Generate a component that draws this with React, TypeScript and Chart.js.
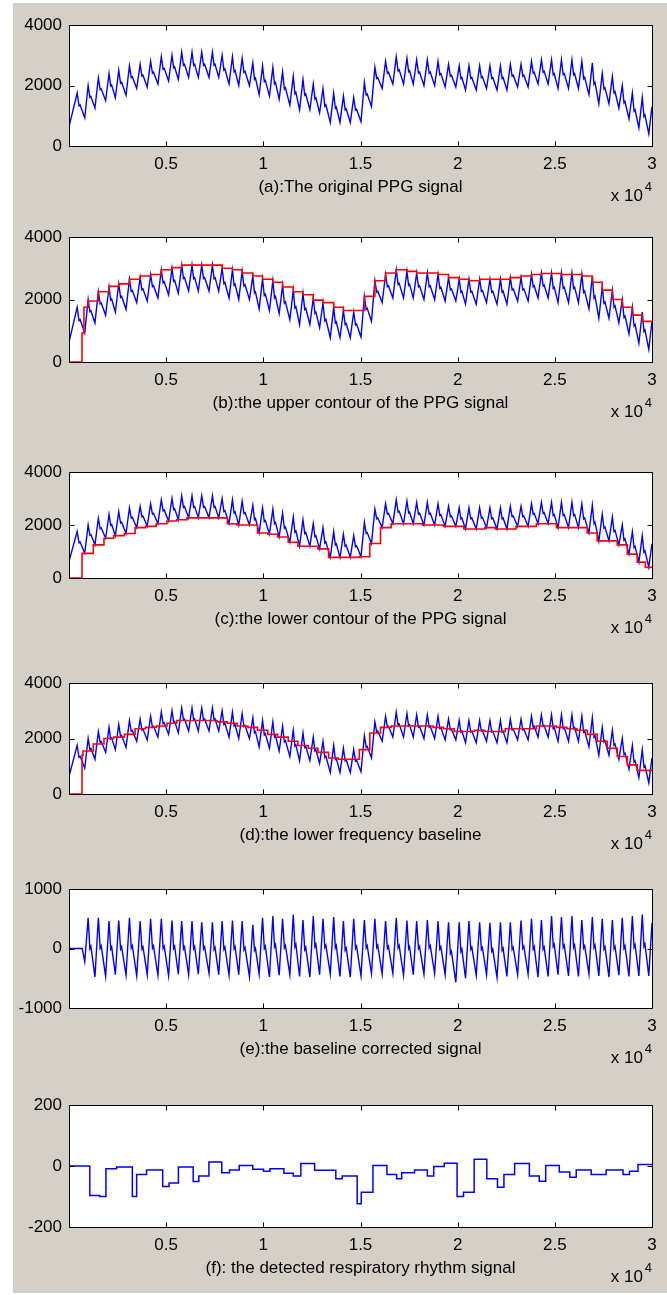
import React, { useEffect, useRef } from "react";
import { Chart, registerables } from "chart.js";

Chart.register(...registerables);

// ------------------------------------------------------------------ data
const xMin = 0;
const xMax = 30000;
const xTickValues = [5000, 10000, 15000, 20000, 25000, 30000];
const xTickLabels = ["0.5", "1", "1.5", "2", "2.5", "3"];
const ppgTicks = [0, 2000, 4000];
const corrTicks = [-1000, 0, 1000];
const respTicks = [-200, 0, 200];

// systolic peak position of every heart beat (samples)
const beatX = [
  420, 985, 1510, 2060, 2560, 3110, 3660, 4200, 4750, 5300,
  5800, 6330, 6830, 7380, 7880, 8410, 8910, 9460, 9960, 10490,
  10990, 11540, 12040, 12570, 13070, 13620, 14120, 14650, 15200, 15740,
  16290, 16840, 17390, 17890, 18440, 18990, 19530, 20080, 20580, 21130,
  21660, 22200, 22710, 23260, 23800, 24310, 24830, 25340, 25880, 26390,
  26930, 27440, 27960, 28470, 28990, 29500,
];
// original PPG: peak of each beat
const peakY = [
  1750, 2000, 2250, 2400, 2500, 2650, 2700, 2800, 2950, 3000,
  3100, 3100, 3100, 3100, 3000, 2950, 2900, 2750, 2650, 2600,
  2450, 2300, 2200, 2050, 1900, 1750, 1650, 1600, 2100, 2600,
  2800, 2950, 2900, 2850, 2850, 2800, 2700, 2650, 2650, 2650,
  2650, 2650, 2700, 2700, 2800, 2850, 2850, 2850, 2850, 2800,
  2750, 2400, 2300, 2000, 1750, 1600,
];
// original PPG: trough preceding each beat (also the lower contour levels)
const troughY = [
  650, 930, 1250, 1500, 1600, 1680, 1900, 1950, 2050, 2150,
  2200, 2270, 2270, 2270, 2270, 2050, 2000, 2000, 1700, 1650,
  1550, 1350, 1200, 1200, 1100, 780, 780, 780, 800, 1300,
  1900, 2050, 2050, 2050, 2000, 2000, 1950, 1950, 1850, 1850,
  1900, 1850, 1850, 1950, 1950, 2050, 2050, 1900, 1900, 1900,
  1700, 1400, 1400, 1250, 900, 600,
];
const ppgStartY = 630;
const ppgEndTrough = 400;
const ppgEndY = 1300;

// contours / baseline (step signals)
const contourOnsetX = 670;
const upperOnsetY = 930;
const upperFirstX = 770;
const upperY = [
  1750, 1950, 2250, 2420, 2500, 2650, 2750, 2800, 2950, 3020,
  3100, 3100, 3100, 3100, 3000, 2950, 2850, 2750, 2650, 2550,
  2400, 2250, 2150, 1980, 1900, 1750, 1650, 1650, 2100, 2600,
  2850, 2950, 2900, 2850, 2850, 2800, 2700, 2650, 2600, 2650,
  2650, 2650, 2700, 2750, 2800, 2830, 2830, 2800, 2800, 2750,
  2550, 2300, 2000, 1750, 1500, 1300,
];
const lowerEndX = 29660;
const baseY = [
  1400, 1550, 1800, 2000, 2050, 2150, 2350, 2400, 2450, 2550,
  2650, 2650, 2650, 2650, 2600, 2550, 2450, 2400, 2300, 2150,
  2050, 1900, 1750, 1650, 1500, 1300, 1250, 1250, 1600, 2200,
  2400, 2450, 2450, 2450, 2450, 2400, 2350, 2250, 2250, 2300,
  2250, 2250, 2350, 2350, 2350, 2450, 2450, 2400, 2350, 2300,
  2150, 1900, 1650, 1350, 1050, 850,
];

// baseline corrected signal (beats 2..56)
const corrOnsetX = 680;
const corrPeak = [
  515, 515, 460, 470, 515, 460, 500, 500, 470, 460,
  460, 440, 440, 460, 470, 460, 400, 515, 545, 500,
  570, 480, 545, 500, 530, 460, 500, 480, 500, 460,
  515, 470, 460, 480, 460, 440, 440, 460, 440, 430,
  440, 440, 470, 500, 480, 545, 530, 545, 480, 530,
  500, 480, 515, 545, 570,
];
const corrTrough = [
  -220, -480, -470, -440, -450, -460, -440, -450, -460, -430,
  -440, -430, -420, -440, -450, -440, -470, -430, -480, -450,
  -440, -470, -480, -440, -430, -470, -480, -460, -420, -430,
  -420, -450, -440, -430, -420, -440, -570, -500, -450, -440,
  -490, -470, -440, -430, -480, -470, -440, -460, -470, -430,
  -460, -480, -450, -470, -460,
];
const corrEndTrough = -460;
const corrEndY = 430;

// detected respiratory rhythm (step signal)
const respX = [
  0, 1070, 1580, 1900, 2450, 3260, 3480, 3990, 4820, 5150,
  5630, 6390, 6680, 7200, 7860, 8260, 8760, 9460, 10010, 10340,
  11060, 11540, 11930, 12640, 13730, 14060, 14830, 15040, 15640, 16360,
  16860, 17120, 17780, 18440, 18770, 19310, 19970, 20300, 20850, 21500,
  22050, 22380, 22930, 23690, 24200, 24530, 25230, 25770, 26100, 26870,
  27640, 28510, 28840, 29280,
];
const respY = [
  0, -97, -100, -9, -3, -100, -28, -13, -67, -56,
  -3, -51, -33, 13, -22, -13, 2, -11, -17, -9,
  -24, -33, 8, -14, -42, -33, -124, -86, 2, -28,
  -42, -22, -13, -33, -2, 9, -100, -86, 22, -42,
  -70, -28, 8, -33, -50, 2, -20, -37, -13, -28,
  -13, -28, -17, 5,
];

// ------------------------------------------------------------------ building series
type Pt = { x: number; y: number };
const RISE = 175;

function beatWave(
  xs: number[], peaks: number[], troughs: number[],
  lead: Pt[], skipFirstTrough: boolean, endTrough: number, endY: number
): Pt[] {
  const pts: Pt[] = [...lead];
  for (let i = 0; i < xs.length; i++) {
    const p = xs[i];
    const T = i + 1 < xs.length ? xs[i + 1] - p : p - xs[i - 1];
    const tn = i + 1 < troughs.length ? troughs[i + 1] : endTrough;
    const amp = peaks[i] - tn;
    if (!(i === 0 && skipFirstTrough)) pts.push({ x: p - RISE, y: troughs[i] });
    pts.push({ x: p, y: peaks[i] });
    pts.push({ x: p + 0.17 * T, y: tn + 0.48 * amp });
    pts.push({ x: p + 0.27 * T, y: tn + 0.52 * amp });
    if (i === xs.length - 1) {
      pts.push({ x: p + T - RISE, y: endTrough });
      pts.push({ x: xMax, y: endY });
    }
  }
  return pts;
}

function stepSeries(lead: Pt[], xs: number[], ys: number[], shift: number, tail: Pt[]): Pt[] {
  const pts: Pt[] = [...lead];
  xs.forEach((x, i) => pts.push({ x: x - shift, y: ys[i] }));
  return pts.concat(tail);
}

const ppg = beatWave(beatX, peakY, troughY, [{ x: xMin, y: ppgStartY }], true, ppgEndTrough, ppgEndY);

const upper = stepSeries(
  [{ x: xMin, y: 0 }, { x: contourOnsetX, y: upperOnsetY }, { x: upperFirstX, y: upperY[0] }],
  beatX.slice(1), upperY.slice(1), 0,
  [{ x: xMax, y: upperY[upperY.length - 1] }]
);
const lower = stepSeries(
  [{ x: xMin, y: 0 }, { x: contourOnsetX, y: troughY[1] }],
  beatX.slice(2), troughY.slice(2), 260,
  [{ x: lowerEndX, y: ppgEndTrough }, { x: xMax, y: ppgEndTrough }]
);
const baseline = stepSeries(
  [{ x: xMin, y: 0 }, { x: contourOnsetX, y: baseY[0] }],
  beatX.slice(1), baseY.slice(1), 260,
  [{ x: xMax, y: baseY[baseY.length - 1] }]
);
const corrected = beatWave(
  beatX.slice(1), corrPeak, corrTrough,
  [{ x: xMin, y: 0 }, { x: corrOnsetX, y: 0 }], false, corrEndTrough, corrEndY
);
const resp = stepSeries([], respX, respY, 0, [{ x: xMax, y: respY[respY.length - 1] }]);

// ------------------------------------------------------------------ layout / style
const FAMILY = "'Liberation Sans', Arial, Helvetica, sans-serif";
const FS = 17;
const PAD_TOP = 20;
const X_AXIS_H = 64;
const Y_AXIS_W = 69;
const PAD_RIGHT = 15;
const BLUE = "#0000ff";
const RED = "#ff0000";

type PanelSpec = {
  top: number;
  bottom: number;
  yMin: number;
  yMax: number;
  yTicks: number[];
  caption: string;
  datasets: any[];
};

const blueDs = (data: Pt[], w = 1.4) => ({ data, borderColor: BLUE, borderWidth: w, pointRadius: 0 });
const redDs = (data: Pt[]) => ({ data, borderColor: RED, borderWidth: 1.6, pointRadius: 0, stepped: true });

const panels: PanelSpec[] = [
  { top: 25, bottom: 146, yMin: 0, yMax: 4000, yTicks: ppgTicks, caption: "(a):The original PPG signal", datasets: [blueDs(ppg)] },
  { top: 237, bottom: 362, yMin: 0, yMax: 4000, yTicks: ppgTicks, caption: "(b):the upper contour of the PPG signal", datasets: [redDs(upper), blueDs(ppg)] },
  { top: 472, bottom: 578, yMin: 0, yMax: 4000, yTicks: ppgTicks, caption: "(c):the lower contour of the PPG signal", datasets: [redDs(lower), blueDs(ppg)] },
  { top: 683, bottom: 794, yMin: 0, yMax: 4000, yTicks: ppgTicks, caption: "(d):the lower frequency baseline", datasets: [redDs(baseline), blueDs(ppg)] },
  { top: 889, bottom: 1008, yMin: -1000, yMax: 1000, yTicks: corrTicks, caption: "(e):the baseline corrected signal", datasets: [blueDs(corrected)] },
  { top: 1105, bottom: 1227, yMin: -200, yMax: 200, yTicks: respTicks, caption: "(f): the detected respiratory rhythm signal", datasets: [{ ...blueDs(resp, 1.5), stepped: true }] },
];

function axesPlugin(caption: string) {
  return {
    id: "matlabAxes",
    beforeDraw(chart: any) {
      const { ctx, chartArea: a } = chart;
      ctx.save();
      ctx.fillStyle = "#ffffff";
      ctx.fillRect(a.left, a.top, a.right - a.left, a.bottom - a.top);
      ctx.restore();
    },
    afterDatasetsDraw(chart: any) {
      const { ctx, chartArea: a, scales } = chart;
      const L = Math.round(a.left) + 0.5;
      const R = Math.round(a.right) + 0.5;
      const T = Math.round(a.top) + 0.5;
      const B = Math.round(a.bottom) + 0.5;
      ctx.save();
      ctx.strokeStyle = "#000000";
      ctx.lineWidth = 1;
      ctx.beginPath();
      ctx.rect(L, T, R - L, B - T);
      const tl = 5;
      scales.x.ticks.forEach((t: any) => {
        const px = Math.round(scales.x.getPixelForValue(t.value)) + 0.5;
        ctx.moveTo(px, B); ctx.lineTo(px, B - tl);
        ctx.moveTo(px, T); ctx.lineTo(px, T + tl);
      });
      scales.y.ticks.forEach((t: any) => {
        const py = Math.round(scales.y.getPixelForValue(t.value)) + 0.5;
        ctx.moveTo(L, py); ctx.lineTo(L + tl, py);
        ctx.moveTo(R, py); ctx.lineTo(R - tl, py);
      });
      ctx.stroke();

      ctx.fillStyle = "#000000";
      ctx.textBaseline = "middle";
      ctx.textAlign = "center";
      ctx.font = `${FS}px ${FAMILY}`;
      ctx.fillText(caption, (a.left + a.right) / 2, a.bottom + 41);
      ctx.textAlign = "right";
      ctx.font = `${FS - 4}px ${FAMILY}`;
      ctx.fillText("4", a.right, a.bottom + 41);
      ctx.font = `${FS}px ${FAMILY}`;
      ctx.fillText("x 10", a.right - 9, a.bottom + 50);
      ctx.restore();
    },
  };
}

function Panel({ spec }: { spec: PanelSpec }) {
  const ref = useRef<HTMLCanvasElement>(null);
  const h = spec.bottom - spec.top + PAD_TOP + X_AXIS_H;
  useEffect(() => {
    const font = { family: FAMILY, size: FS };
    const chart = new Chart(ref.current as HTMLCanvasElement, {
      type: "line",
      data: { datasets: spec.datasets },
      options: {
        animation: false,
        responsive: false,
        maintainAspectRatio: false,
        devicePixelRatio: 1,
        parsing: false,
        normalized: true,
        events: [],
        layout: { padding: { top: PAD_TOP, right: PAD_RIGHT, left: 0, bottom: 0 } },
        plugins: { legend: { display: false }, tooltip: { enabled: false } },
        elements: { point: { radius: 0 }, line: { tension: 0 } },
        scales: {
          x: {
            type: "linear",
            min: xMin,
            max: xMax,
            afterBuildTicks: (s: any) => { s.ticks = xTickValues.map((v) => ({ value: v })); },
            afterFit: (s: any) => { s.height = X_AXIS_H; },
            grid: { display: false, drawTicks: false },
            border: { display: false },
            ticks: {
              autoSkip: false, maxRotation: 0, padding: 8, color: "#000", font,
              callback: (_v: any, i: number) => xTickLabels[i],
            },
          },
          y: {
            type: "linear",
            min: spec.yMin,
            max: spec.yMax,
            afterBuildTicks: (s: any) => { s.ticks = spec.yTicks.map((v) => ({ value: v })); },
            afterFit: (s: any) => { s.width = Y_AXIS_W; },
            grid: { display: false, drawTicks: false },
            border: { display: false },
            ticks: {
              autoSkip: false, padding: 7, color: "#000", font,
              callback: (v: any) => String(v),
            },
          },
        },
      } as any,
      plugins: [axesPlugin(spec.caption)],
    });
    return () => chart.destroy();
  }, []);
  return (
    <canvas
      ref={ref}
      width={667}
      height={h}
      style={{ position: "absolute", left: 0, top: spec.top - PAD_TOP, width: 667, height: h }}
    />
  );
}

export default function App() {
  return (
    <>
      <div style={{ position: "absolute", left: 13, top: 3, width: 654, height: 1290, background: "#d4d0c8" }} />
      {panels.map((p, i) => (
        <Panel key={i} spec={p} />
      ))}
    </>
  );
}
